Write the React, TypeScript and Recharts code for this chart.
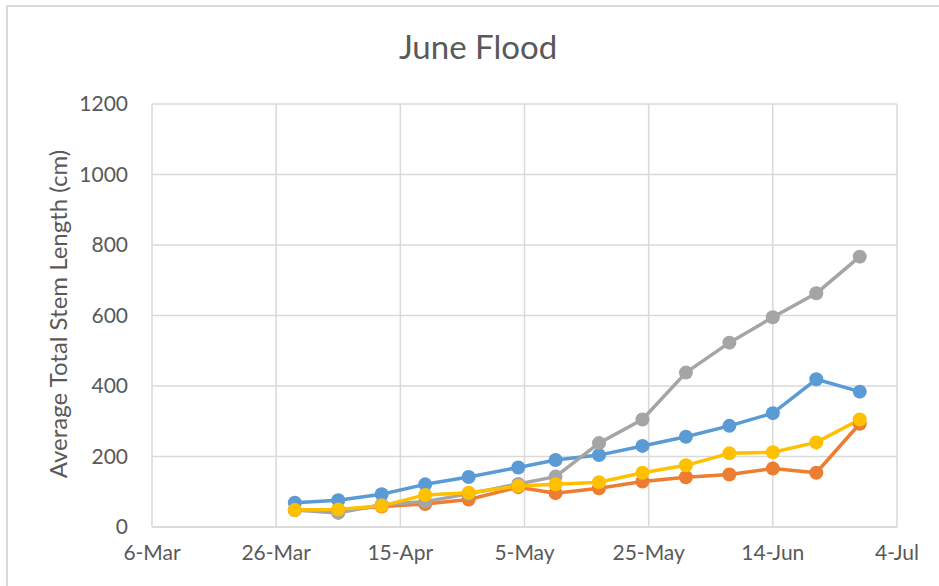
import React from "react";
import { LineChart, Line, XAxis, YAxis, CartesianGrid, Label } from "recharts";

const sampleDates = [
  "03-29", "04-05", "04-12", "04-19", "04-26", "05-04", "05-10",
  "05-17", "05-24", "05-31", "06-07", "06-14", "06-21", "06-28",
];
const seriesBlue = [69, 76, 93, 121, 142, 169, 190, 204, 230, 256, 287, 323, 419, 384];
const seriesOrange = [48, 48, 58, 65, 78, 113, 96, 110, 129, 141, 149, 166, 154, 293];
const seriesGray = [48, 40, 63, 72, 94, 122, 143, 238, 305, 438, 523, 595, 663, 767];
const seriesYellow = [48, 50, 60, 91, 97, 116, 121, 127, 154, 175, 209, 212, 240, 305];

const tickLabels = ["6-Mar", "26-Mar", "15-Apr", "5-May", "25-May", "14-Jun", "4-Jul"];
const tickDays = [0, 20, 40, 60, 80, 100, 120];
const yTicks = [0, 200, 400, 600, 800, 1000, 1200];

const YEAR = 2019;
const originMs = Date.UTC(YEAR, 2, 6);
const dayOf = (md: string) => {
  const [m, d] = md.split("-").map(Number);
  return Math.round((Date.UTC(YEAR, m - 1, d) - originMs) / 86400000);
};

const data = sampleDates.map((md, i) => ({
  day: dayOf(md),
  blue: seriesBlue[i],
  orange: seriesOrange[i],
  gray: seriesGray[i],
  yellow: seriesYellow[i],
}));

const FONT = "Lato, 'Liberation Sans', sans-serif";
const TXT = "#595959";

const series = [
  { key: "blue", color: "#5B9BD5" },
  { key: "orange", color: "#ED7D31" },
  { key: "gray", color: "#A5A5A5" },
  { key: "yellow", color: "#FFC000" },
];

export default function App() {
  return (
    <div
      style={{
        position: "absolute",
        left: 0,
        top: 0,
        width: 939,
        height: 586,
        overflow: "hidden",
        background: "#fff",
        fontFamily: FONT,
      }}
    >
      <div
        style={{
          position: "absolute",
          left: 6,
          top: 5,
          width: 980,
          height: 640,
          border: "2px solid #D9D9D9",
          boxSizing: "border-box",
        }}
      />
      <div
        style={{
          position: "absolute",
          left: 0,
          top: 24,
          width: 956,
          textAlign: "center",
          fontSize: 33,
          color: TXT,
          lineHeight: "44px",
        }}
      >
        June Flood
      </div>
      <div style={{ position: "absolute", left: 0, top: 0 }}>
        <LineChart
          width={939}
          height={586}
          data={data}
          margin={{ top: 104, right: 42, bottom: 0, left: 0 }}
        >
          <CartesianGrid stroke="#D9D9D9" strokeWidth={1.5} />
          <XAxis
            dataKey="day"
            type="number"
            domain={[0, 120]}
            ticks={tickDays}
            tickFormatter={(v: number) => tickLabels[tickDays.indexOf(v)] ?? ""}
            height={59}
            tickLine={false}
            axisLine={{ stroke: "#D9D9D9", strokeWidth: 1.5 }}
            tick={{ fill: TXT, fontSize: 21, fontFamily: FONT }}
            tickMargin={12}
            interval={0}
          />
          <YAxis
            type="number"
            domain={[0, 1200]}
            ticks={yTicks}
            width={152}
            tickLine={false}
            axisLine={false}
            tickSize={0}
            tickMargin={24}
            interval={0}
            tick={{ fill: TXT, fontSize: 21, fontFamily: FONT }}
          >
            <Label
              content={() => (
                <text
                  x={57}
                  y={314}
                  transform="rotate(-90 57 314)"
                  textAnchor="middle"
                  dominantBaseline="central"
                  fill={TXT}
                  fontSize={24}
                  fontFamily={FONT}
                >
                  Average Total Stem Length (cm)
                </text>
              )}
            />
          </YAxis>
          {series.map((s) => (
            <Line
              key={s.key}
              dataKey={s.key}
              stroke={s.color}
              strokeWidth={3.5}
              strokeLinejoin="round"
              dot={{ r: 7, fill: s.color, stroke: s.color, strokeWidth: 0 }}
              activeDot={false}
              isAnimationActive={false}
            />
          ))}
        </LineChart>
      </div>
    </div>
  );
}
